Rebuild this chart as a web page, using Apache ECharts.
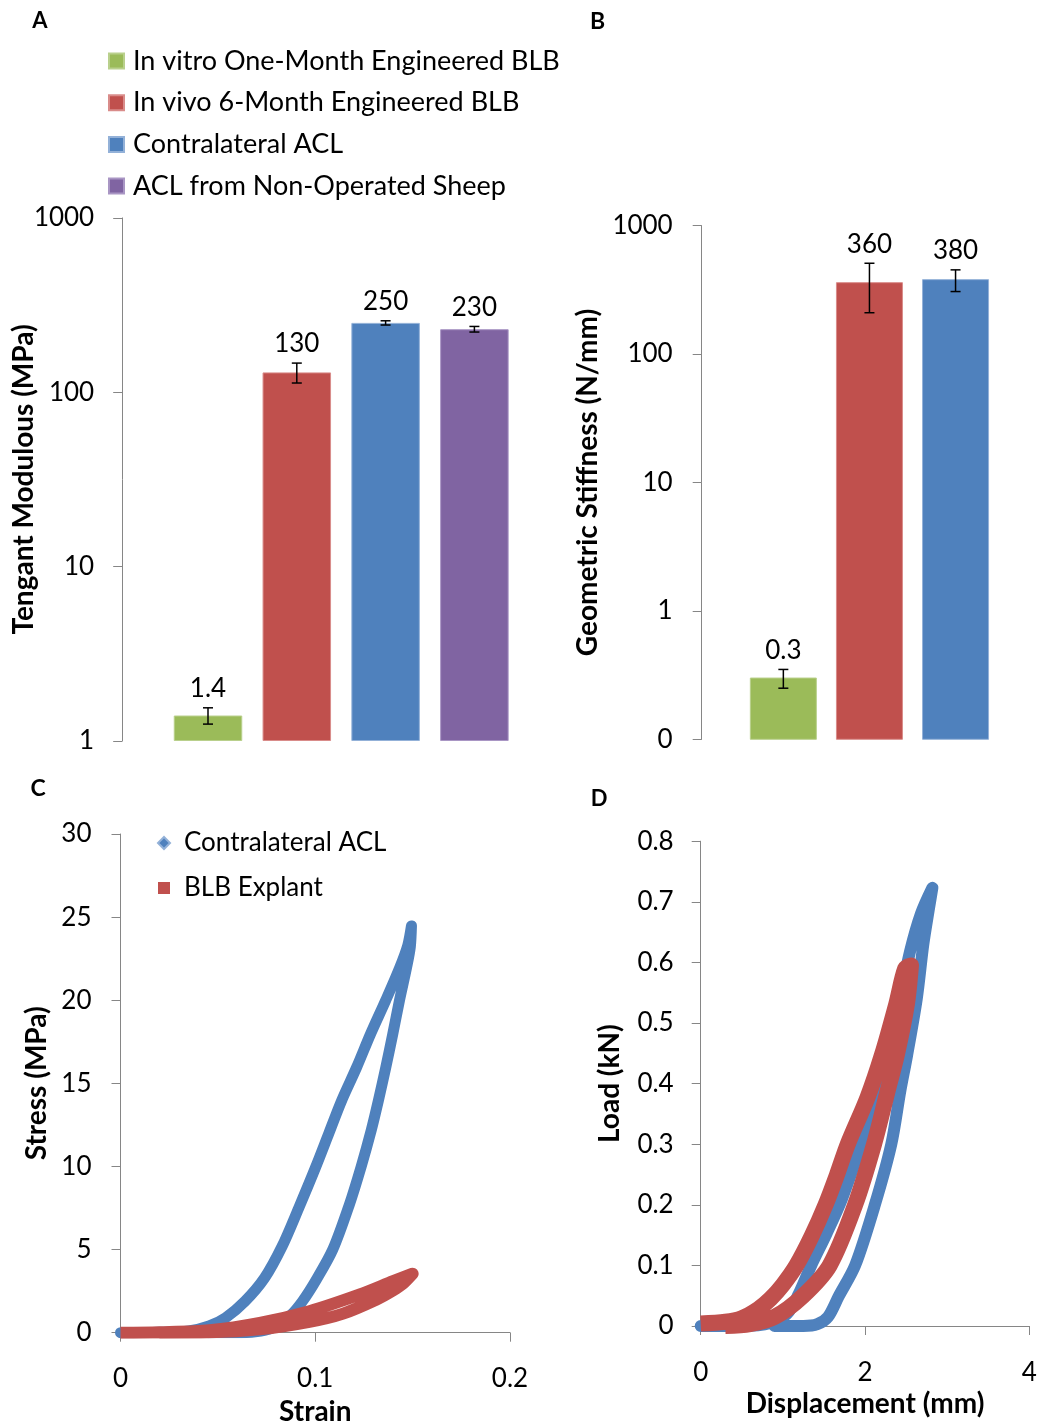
<!DOCTYPE html>
<html>
<head>
<meta charset="utf-8">
<title>Mechanical properties of engineered BLB constructs and ACL</title>
<script src="https://cdn.jsdelivr.net/npm/echarts@6/dist/echarts.min.js"></script>
<style>
  html, body { margin: 0; padding: 0; background: #ffffff; }
  #chart { width: 1041px; height: 1426px; }
</style>
</head>
<body>
<div id="chart"></div>
<script>
// ---- Panel A: tangent modulus (MPa), mean and SD per group ----
const modulusGroups = [
  'In vitro One-Month Engineered BLB',
  'In vivo 6-Month Engineered BLB',
  'Contralateral ACL',
  'ACL from Non-Operated Sheep'
];
const modulusMean = [1.4, 130, 250, 230];
const modulusSD = [0.15, 17, 7, 8.5];

// ---- Panel B: geometric stiffness (N/mm), mean and SD per group ----
const stiffnessGroups = [
  'In vitro One-Month Engineered BLB',
  'In vivo 6-Month Engineered BLB',
  'Contralateral ACL'
];
const stiffnessMean = [0.3, 360, 380];
const stiffnessSD = [0.05, 150, 73];

// ---- Panel C: stress–strain hysteresis loops (loading then unloading) ----
const strainACL = [0, 0.02, 0.035, 0.0455, 0.054, 0.064, 0.074, 0.083, 0.0915, 0.1, 0.107,
  0.1135, 0.1212, 0.1285, 0.1362, 0.1434, 0.1475, 0.1494, 0.1488, 0.1469, 0.1432, 0.1398, 0.1362,
  0.1324, 0.1288, 0.1236, 0.1175, 0.109, 0.1006, 0.0935, 0.087, 0.08, 0.072, 0.062, 0.045];
const stressACL = [0, 0.02, 0.1, 0.4, 0.9, 1.9, 3.3, 5.2, 7.5, 9.9, 12.0,
  13.95, 15.95, 18.0, 20.0, 21.97, 23.3, 24.47, 23.2, 21.97, 19.96, 17.96, 15.95,
  13.95, 12.2, 10.0, 7.7, 5.0, 3.2, 1.9, 1.0, 0.4, 0.1, 0.0, 0.0];

const strainBLB = [0, 0.02, 0.0457, 0.0715, 0.097, 0.1229, 0.14, 0.15,
  0.145, 0.14, 0.1315, 0.1143, 0.097, 0.0715, 0.0457, 0.02];
const stressBLB = [0, 0.03, 0.15, 0.59, 1.29, 2.3, 3.1, 3.55,
  2.95, 2.55, 2.0, 1.15, 0.65, 0.2, 0.02, 0.0];

// ---- Panel D: load–displacement hysteresis loops (loading then unloading) ----
const dispACL = [0, 0.5, 0.85, 1.05, 1.19, 1.345, 1.53, 1.72, 1.95, 2.13, 2.27, 2.41, 2.55, 2.68, 2.82,
  2.78, 2.71, 2.63, 2.51, 2.43, 2.32, 2.12, 1.88, 1.68, 1.55, 1.42, 1.25, 0.9];
const loadACL = [0, 0, 0.005, 0.02, 0.052, 0.1, 0.152, 0.21, 0.3, 0.388, 0.455, 0.531, 0.619, 0.68, 0.723,
  0.69, 0.63, 0.54, 0.445, 0.388, 0.3, 0.2, 0.1, 0.049, 0.015, 0.003, 0, 0];

const dispBLB = [0, 0.3, 0.5, 0.7, 0.85, 1.0, 1.165, 1.35, 1.52, 1.66, 1.79, 2.03, 2.21, 2.38, 2.49,
  2.56, 2.51, 2.39, 2.27, 2.11, 1.88, 1.57, 1.24, 0.9, 0.6, 0.3];
const loadBLB = [0.004, 0.007, 0.013, 0.028, 0.045, 0.068, 0.1, 0.148, 0.2, 0.25, 0.3, 0.377, 0.449, 0.531, 0.59,
  0.595, 0.531, 0.449, 0.385, 0.3, 0.2, 0.1, 0.049, 0.015, 0.003, 0];

// ---- styling ----
const FONT = 'Lato, "Open Sans", sans-serif';
const INK = '#000000';
const AXIS_GRAY = '#868686';
const groupColors = ['#9BBB59', '#C0504D', '#4F81BD', '#8064A2'];
const groupEdges = ['#B9D08C', '#D98C8A', '#93B1D8', '#A996C4'];
const ACL_BLUE = '#4F81BD';
const BLB_RED = '#C0504D';

const zip = (xs, ys) => xs.map((x, i) => [x, ys[i]]);

function axisLineStyle() {
  return { show: true, lineStyle: { color: AXIS_GRAY, width: 1 } };
}
function axisTickStyle() {
  return { show: true, inside: false, length: 9, lineStyle: { color: AXIS_GRAY, width: 1 } };
}
function tickLabel(size, margin) {
  return { color: INK, fontFamily: FONT, fontSize: size, margin: margin };
}
function titleStyle(size) {
  return { color: INK, fontFamily: FONT, fontSize: size, fontWeight: 'bold' };
}
const plainNumber = v => String(Math.round(Number(v) * 1000) / 1000);

// Error bar with caps plus the mean value written above the upper cap
function errorBarRenderer(means) {
  return function (params, api) {
    const i = api.value(0);
    const lo = api.coord([i, api.value(1)]);
    const hi = api.coord([i, api.value(2)]);
    const cap = 5;
    const line = (x1, y1, x2, y2) => ({
      type: 'line',
      shape: { x1, y1, x2, y2 },
      style: { stroke: '#000', lineWidth: 1.5 }
    });
    return {
      type: 'group',
      children: [
        line(hi[0], hi[1], lo[0], lo[1]),
        line(hi[0] - cap, hi[1], hi[0] + cap, hi[1]),
        line(lo[0] - cap, lo[1], lo[0] + cap, lo[1]),
        {
          type: 'text',
          style: {
            text: String(means[i]),
            x: hi[0], y: hi[1] - 19,
            align: 'center', verticalAlign: 'middle',
            fill: INK, font: '26px ' + FONT
          }
        }
      ]
    };
  };
}

// Bars for the stiffness panel, rising from the bottom of its log axis
const STIFF_AXIS_MIN = 0.1;
function stiffnessBarRenderer(params, api) {
  const i = api.value(0);
  const top = api.coord([i, api.value(1)]);
  const base = api.coord([i, STIFF_AXIS_MIN]);
  const w = 66;
  return {
    type: 'rect',
    shape: { x: top[0] - w / 2, y: top[1], width: w, height: base[1] - top[1] },
    style: { fill: groupColors[i], stroke: groupEdges[i], lineWidth: 1 }
  };
}

const errorData = (means, sds) => means.map((m, i) => [i, m - sds[i], m + sds[i]]);

function yName(text, gap) {
  return {
    name: text, nameLocation: 'middle', nameRotate: 90, nameGap: gap,
    nameMoveOverlap: false, nameTextStyle: titleStyle(28)
  };
}
function xName(text, gap) {
  return {
    name: text, nameLocation: 'middle', nameGap: gap,
    nameMoveOverlap: false, nameTextStyle: titleStyle(28)
  };
}

const option = {
  backgroundColor: '#ffffff',
  animation: false,
  textStyle: { fontFamily: FONT },
  grid: [
    { left: 163.6, top: 217.9, width: 355.2, height: 523.1, containLabel: false, outerBoundsMode: 'none' },
    { left: 740.3, top: 225.7, width: 258.3, height: 513.6, containLabel: false, outerBoundsMode: 'none' },
    { left: 120.5, top: 834, width: 389.5, height: 498.7, containLabel: false, outerBoundsMode: 'none' },
    { left: 700.7, top: 841.2, width: 328.6, height: 484.8, containLabel: false, outerBoundsMode: 'none' }
  ],
  xAxis: [
    { gridIndex: 0, type: 'category', data: modulusGroups, show: false },
    { gridIndex: 1, type: 'category', data: stiffnessGroups, show: false },
    Object.assign({
      gridIndex: 2, type: 'value', min: 0, max: 0.2, interval: 0.1,
      axisLine: axisLineStyle(), axisTick: axisTickStyle(),
      axisLabel: tickLabel(26, 33), splitLine: { show: false }
    }, xName('Strain', 65)),
    Object.assign({
      gridIndex: 3, type: 'value', min: 0, max: 4, interval: 2,
      axisLine: axisLineStyle(), axisTick: axisTickStyle(),
      axisLabel: tickLabel(26, 34), splitLine: { show: false }
    }, xName('Displacement (mm)', 64))
  ],
  yAxis: [
    Object.assign({
      gridIndex: 0, type: 'log', logBase: 10, min: 1, max: 1000, offset: 41.4,
      axisLine: axisLineStyle(), axisTick: axisTickStyle(),
      axisLabel: Object.assign(tickLabel(26, 28), { formatter: plainNumber }),
      splitLine: { show: false }
    }, yName('Tengant Modulous (MPa)', 84)),
    Object.assign({
      gridIndex: 1, type: 'log', logBase: 10, min: STIFF_AXIS_MIN, max: 1000, offset: 38.6,
      axisLine: axisLineStyle(), axisTick: axisTickStyle(),
      // whole-number format, so the 0.1 floor reads as 0
      axisLabel: Object.assign(tickLabel(26, 29), { formatter: v => Number(v).toFixed(0) }),
      splitLine: { show: false }
    }, yName('Geometric Stiffness (N/mm)', 100)),
    Object.assign({
      gridIndex: 2, type: 'value', min: 0, max: 30, interval: 5,
      axisLine: axisLineStyle(), axisTick: axisTickStyle(),
      axisLabel: tickLabel(26, 29), splitLine: { show: false }
    }, yName('Stress (MPa)', 70)),
    Object.assign({
      gridIndex: 3, type: 'value', min: 0, max: 0.8, interval: 0.1,
      axisLine: axisLineStyle(), axisTick: axisTickStyle(),
      axisLabel: tickLabel(26, 27), splitLine: { show: false }
    }, yName('Load (kN)', 77))
  ],
  legend: [
    {
      orient: 'vertical', left: 108, top: 46, padding: 0,
      itemWidth: 15, itemHeight: 15, itemGap: 11.7, icon: 'rect',
      textStyle: { color: INK, fontFamily: FONT, fontSize: 27, lineHeight: 30, padding: [0, 0, 0, 4] },
      data: modulusGroups, selectedMode: false
    },
    {
      orient: 'vertical', left: 157, top: 828, padding: 0,
      itemWidth: 12, itemHeight: 12, itemGap: 15,
      textStyle: { color: INK, fontFamily: FONT, fontSize: 26, lineHeight: 30, padding: [0, 0, 0, 9] },
      data: [
        { name: 'Contralateral ACL', icon: 'diamond' },
        { name: 'BLB Explant', icon: 'rect' }
      ],
      selectedMode: false
    }
  ],
  graphic: [
    { type: 'text', x: 40, y: 21, style: { text: 'A', align: 'center', verticalAlign: 'middle', fill: INK, font: 'bold 22px ' + FONT } },
    { type: 'text', x: 597.5, y: 21.5, style: { text: 'B', align: 'center', verticalAlign: 'middle', fill: INK, font: 'bold 23px ' + FONT } },
    { type: 'text', x: 38, y: 789, style: { text: 'C', align: 'center', verticalAlign: 'middle', fill: INK, font: 'bold 23px ' + FONT } },
    { type: 'text', x: 599, y: 799, style: { text: 'D', align: 'center', verticalAlign: 'middle', fill: INK, font: 'bold 22px ' + FONT } }
  ],
  series: [
    // Panel A bars: one series per group so each has its own legend entry
    ...modulusGroups.map((name, i) => ({
      type: 'bar', name,
      xAxisIndex: 0, yAxisIndex: 0,
      barWidth: 68.5, barGap: '-100%',
      data: modulusMean.map((v, j) => (j === i ? v : '-')),
      itemStyle: { color: groupColors[i], borderColor: groupEdges[i], borderWidth: 1 },
      silent: true
    })),
    {
      type: 'custom', xAxisIndex: 0, yAxisIndex: 0, z: 5, silent: true,
      renderItem: errorBarRenderer(modulusMean),
      encode: { x: 0, y: [1, 2] },
      data: errorData(modulusMean, modulusSD)
    },
    // Panel B bars and error bars
    {
      type: 'custom', xAxisIndex: 1, yAxisIndex: 1, silent: true,
      renderItem: stiffnessBarRenderer,
      encode: { x: 0, y: 1 },
      data: stiffnessMean.map((v, i) => [i, v])
    },
    {
      type: 'custom', xAxisIndex: 1, yAxisIndex: 1, z: 5, silent: true,
      renderItem: errorBarRenderer(stiffnessMean),
      encode: { x: 0, y: [1, 2] },
      data: errorData(stiffnessMean, stiffnessSD)
    },
    // Panel C loops
    {
      type: 'line', name: 'Contralateral ACL', xAxisIndex: 2, yAxisIndex: 2,
      data: zip(strainACL, stressACL), showSymbol: false, smooth: 0.3,
      itemStyle: { color: ACL_BLUE },
      lineStyle: { color: ACL_BLUE, width: 11, cap: 'round', join: 'round' },
      silent: true
    },
    {
      type: 'line', name: 'BLB Explant', xAxisIndex: 2, yAxisIndex: 2,
      data: zip(strainBLB, stressBLB), showSymbol: false, smooth: 0.3,
      itemStyle: { color: BLB_RED },
      lineStyle: { color: BLB_RED, width: 12, cap: 'butt', join: 'round' },
      silent: true
    },
    // Panel D loops
    {
      type: 'line', name: 'Contralateral ACL', xAxisIndex: 3, yAxisIndex: 3,
      data: zip(dispACL, loadACL), showSymbol: false, smooth: 0.3,
      itemStyle: { color: ACL_BLUE },
      lineStyle: { color: ACL_BLUE, width: 12, cap: 'round', join: 'round' },
      silent: true
    },
    {
      type: 'line', name: 'BLB Explant', xAxisIndex: 3, yAxisIndex: 3,
      data: zip(dispBLB, loadBLB), showSymbol: false, smooth: 0.3,
      itemStyle: { color: BLB_RED },
      lineStyle: { color: BLB_RED, width: 16, cap: 'butt', join: 'round' },
      silent: true
    }
  ]
};

const chart = echarts.init(document.getElementById('chart'), null, { renderer: 'canvas' });
chart.setOption(option);
</script>
</body>
</html>
